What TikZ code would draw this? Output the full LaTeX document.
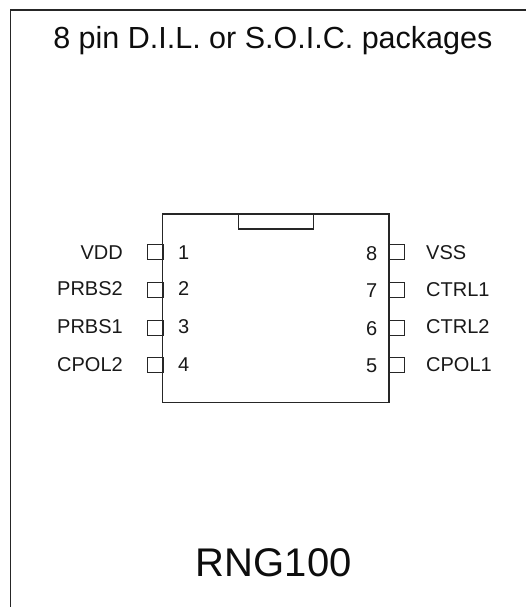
\documentclass[tikz,border=0pt]{standalone}
\usepackage{fontspec}
\setmainfont{Liberation Sans}
\tikzset{
  x=1pt,y=-1pt,
  line/.style={draw=black!85,line width=1.2pt},
  pinbox/.style={line,rectangle,minimum width=15.5pt,minimum height=15pt,inner sep=0pt,outer sep=0pt},
  lbl/.style={font=\fontsize{20}{20}\selectfont,inner sep=0pt,text=black!90,anchor=base},
  lblr/.style={lbl,anchor=base east},
  lbll/.style={lbl,anchor=base west},
  big/.style={font=\fontsize{30.5}{30.5}\selectfont,inner sep=0pt,anchor=base,text=black!95}
}
\begin{document}
\begin{tikzpicture}
\useasboundingbox (0,0) rectangle (526,607);
\coordinate (frameA) at (10.5,607);
\coordinate (frameB) at (10.5,10);
\coordinate (frameC) at (526,10);
\draw[line] (frameA) -- (frameB) -- (frameC);
\node[big] (title) at (272.8,48.5) {8 pin D.I.L. or S.O.I.C. packages};
\node[big,font=\fontsize{40}{40}\selectfont] (name) at (273.7,576) {RNG100};
\node[line,rectangle,minimum width=226.5pt,minimum height=188.5pt,inner sep=0pt,outer sep=0pt] (chip) at (275.75,308.25) {};
\coordinate (notchA) at (238.5,214);
\coordinate (notchB) at (238.5,229);
\coordinate (notchC) at (313.7,229);
\coordinate (notchD) at (313.7,214);
\draw[line] (notchA) -- (notchB) -- (notchC) -- (notchD);
\node[pinbox] (p1) at (155.5,251.7) {};
\node[pinbox] (p2) at (155.5,289.7) {};
\node[pinbox] (p3) at (155.5,327.7) {};
\node[pinbox] (p4) at (155.5,365.3) {};
\node[pinbox] (p8) at (396.7,251.7) {};
\node[pinbox] (p7) at (396.7,289.7) {};
\node[pinbox] (p6) at (396.7,327.7) {};
\node[pinbox] (p5) at (396.7,365.3) {};
\node[lblr] (l1) at (123,259) {VDD};
\node[lblr] (l2) at (123,295.5) {PRBS2};
\node[lblr] (l3) at (123,333) {PRBS1};
\node[lblr] (l4) at (123,371) {CPOL2};
\node[lbll] (n1) at (178,259) {1};
\node[lbll] (n2) at (178,295.5) {2};
\node[lbll] (n3) at (178,333) {3};
\node[lbll] (n4) at (178,371) {4};
\node[lblr] (n8) at (377.5,260) {8};
\node[lblr] (n7) at (377.5,297.5) {7};
\node[lblr] (n6) at (377.5,335) {6};
\node[lblr] (n5) at (377.5,372) {5};
\node[lbll] (r8) at (426,259) {VSS};
\node[lbll] (r7) at (426,296) {CTRL1};
\node[lbll] (r6) at (426,333) {CTRL2};
\node[lbll] (r5) at (426,371) {CPOL1};
\end{tikzpicture}
\end{document}
